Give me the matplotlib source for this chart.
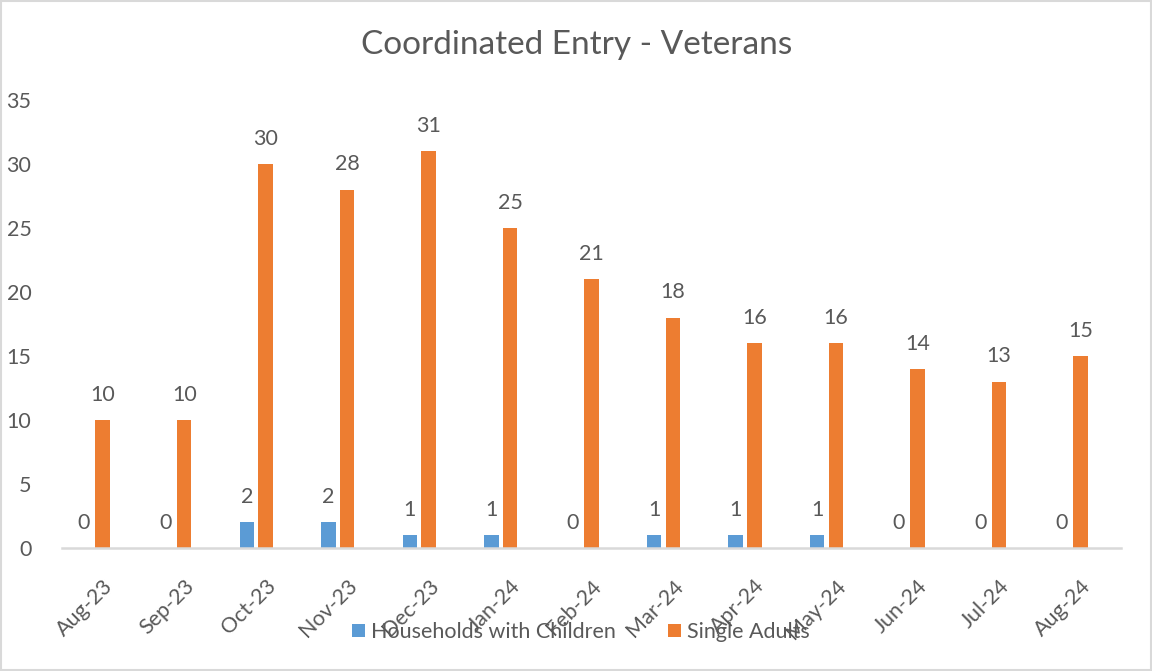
import matplotlib.pyplot as plt
import numpy as np
from matplotlib.patches import Rectangle

months = ["Aug-23", "Sep-23", "Oct-23", "Nov-23", "Dec-23", "Jan-24", "Feb-24",
          "Mar-24", "Apr-24", "May-24", "Jun-24", "Jul-24", "Aug-24"]
households = [0, 0, 2, 2, 1, 1, 0, 1, 1, 1, 0, 0, 0]
singles = [10, 10, 30, 28, 31, 25, 21, 18, 16, 16, 14, 13, 15]

plt.rcParams['font.family'] = ['Lato', 'DejaVu Sans']
txt = "#595959"
blue = "#5B9BD5"
orange = "#ED7D31"

fig = plt.figure(figsize=(11.52, 6.71), dpi=100)
ax = fig.add_axes([62/1152, 1-548/671, (1121-62)/1152, (548-100)/671])

x = np.arange(len(months))
w = 0.178
b1 = ax.bar(x - 0.23, households, w, color=blue, label="Households with Children")
b2 = ax.bar(x, singles, w, color=orange, label="Single Adults")

for bars, vals in ((b1, households), (b2, singles)):
    for r, v in zip(bars, vals):
        ax.annotate(str(v), (r.get_x() + r.get_width()/2, v), xytext=(0, 11),
                    textcoords="offset points", ha="center", va="bottom",
                    fontsize=15.5, color=txt)

ax.set_xlim(-0.5, len(months) - 0.5)
ax.set_ylim(0, 35)
ax.set_yticks(range(0, 36, 5))
ax.set_xticks(x)
ax.set_xticklabels(months, rotation=45, ha="right", rotation_mode="anchor")
for s in ("top", "right", "left"):
    ax.spines[s].set_visible(False)
ax.spines["bottom"].set_color("#d9d9d9")
ax.spines["bottom"].set_linewidth(1.8)
ax.tick_params(axis="both", length=0, labelsize=15.5, labelcolor=txt)
ax.tick_params(axis="y", pad=22)
ax.tick_params(axis="x", pad=20)

fig.text(577/1152, 1-45/671, "Coordinated Entry - Veterans", ha="center", va="center",
         fontsize=24, color=txt)

fig.legend(handles=[b1, b2], loc="center", bbox_to_anchor=(581/1152, 1-632/671),
           ncol=2, frameon=False, fontsize=15.5, labelcolor=txt,
           handlelength=0.6, handleheight=0.6, handletextpad=0.3, columnspacing=2.4)

fig.add_artist(Rectangle((0.001, 0.001), 0.998, 0.998, transform=fig.transFigure,
                         fill=False, edgecolor="#d9d9d9", linewidth=1.5))

fig.savefig("out.png", dpi=100)
